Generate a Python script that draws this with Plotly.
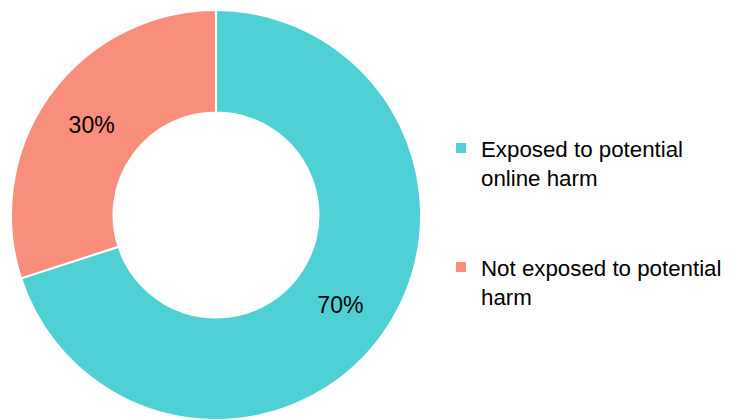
import plotly.graph_objects as go

# Share of respondents by exposure to potential online harm
categories = ["Exposed to potential<br>online harm", "Not exposed to potential<br>harm"]
values = [70, 30]
colors = ["#4FD0D5", "#F88E7B"]

# pad each legend entry with blank lines so the entries sit well apart
PAD = "<br>\u00a0<br>\u00a0"
legend_labels = [c + PAD for c in categories]

FONT = "Liberation Sans, Arial, sans-serif"

fig = go.Figure(
    go.Pie(
        labels=legend_labels,
        values=values,
        hole=0.5,
        sort=False,
        direction="clockwise",
        rotation=0,
        marker=dict(colors=colors, line=dict(color="white", width=2)),
        textinfo="percent",
        texttemplate="%{percent:.0%}",
        textposition="inside",
        insidetextorientation="horizontal",
        textfont=dict(family=FONT, size=23, color="black"),
        domain=dict(x=[11 / 751, 421 / 751], y=[0, 410 / 420]),
        hoverinfo="label+percent",
    )
)

fig.update_layout(
    width=751,
    height=420,
    margin=dict(l=0, r=0, t=0, b=0),
    paper_bgcolor="white",
    plot_bgcolor="white",
    font=dict(family=FONT, color="black"),
    uniformtext=dict(minsize=23, mode="show"),
    showlegend=True,
    legend=dict(
        x=441 / 751,
        xanchor="left",
        y=1 - 127 / 420,
        yanchor="top",
        valign="top",
        font=dict(size=22.3, color="black"),
        bgcolor="rgba(0,0,0,0)",
        tracegroupgap=0,
    ),
)

fig.write_html("out.html")
